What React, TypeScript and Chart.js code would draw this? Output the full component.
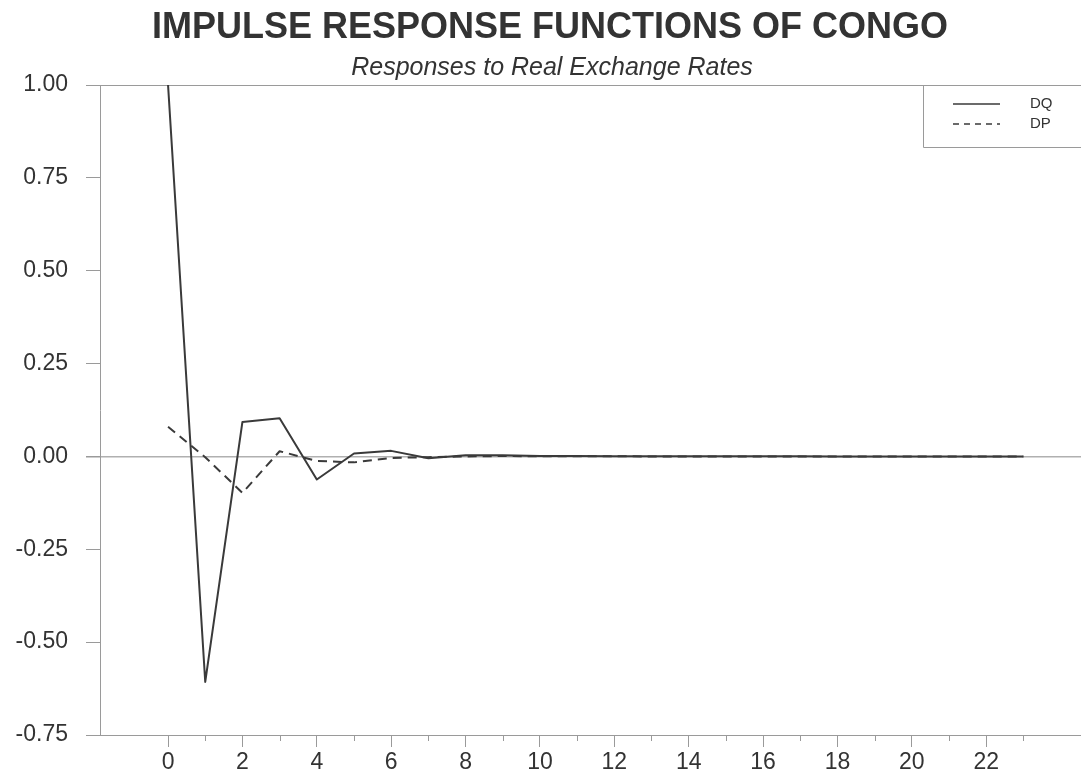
import React, { useEffect, useRef } from "react";
import { Chart, registerables } from "chart.js";

Chart.register(...registerables);

const periods = [0, 1, 2, 3, 4, 5, 6, 7, 8, 9, 10, 11, 12, 13, 14, 15, 16, 17, 18, 19, 20, 21, 22, 23];
const dq = [1.0, -0.607, 0.093, 0.103, -0.062, 0.008, 0.015, -0.005, 0.003, 0.003, 0.001, 0.001, 0.0005, 0.0005, 0.0003, 0.0003, 0.0002, 0.0002, 0.0001, 0.0001, 0.0001, 0.0001, 0.0, 0.0];
const dp = [0.08, -0.002, -0.098, 0.014, -0.012, -0.016, -0.004, -0.002, 0.0, 0.001, 0.0005, 0.0003, 0.0002, 0.0001, 0.0001, 0.0, 0.0, 0.0, 0.0, 0.0, 0.0, 0.0, 0.0, 0.0];
const majorXTicks = [0, 2, 4, 6, 8, 10, 12, 14, 16, 18, 20, 22];
const minorXTicks = [1, 3, 5, 7, 9, 11, 13, 15, 17, 19, 21, 23];
const seriesNames = ["DQ", "DP"];
const titleText = "IMPULSE RESPONSE FUNCTIONS OF CONGO";
const subtitleText = "Responses to Real Exchange Rates";

const AXIS = "#9a9a9a";
const TEXT = "#333333";
const LINE = "#3a3a3a";

const decor = {
  id: "decor",
  afterDraw(chart: any) {
    const ctx = chart.ctx;
    const area = chart.chartArea;
    const xs = chart.scales.x;
    ctx.save();
    // titles
    ctx.fillStyle = TEXT;
    ctx.textAlign = "center";
    ctx.textBaseline = "alphabetic";
    ctx.font = "bold 36px 'Liberation Sans', Arial, sans-serif";
    ctx.fillText(titleText, 550, 38);
    ctx.font = "italic 25px 'Liberation Sans', Arial, sans-serif";
    ctx.fillText(subtitleText, 552, 75);
    // minor x ticks
    ctx.strokeStyle = AXIS;
    ctx.lineWidth = 1;
    for (const v of minorXTicks) {
      const px = Math.round(xs.getPixelForValue(v)) + 0.5;
      ctx.beginPath();
      ctx.moveTo(px, area.bottom);
      ctx.lineTo(px, area.bottom + 6);
      ctx.stroke();
    }
    // legend box
    const bx = 923.5;
    const by = area.top;
    const bb = 147.5;
    ctx.beginPath();
    ctx.moveTo(bx, by);
    ctx.lineTo(bx, bb);
    ctx.lineTo(chart.width, bb);
    ctx.stroke();
    const rows = [104, 124];
    ctx.strokeStyle = LINE;
    ctx.lineWidth = 1.5;
    rows.forEach((y, i) => {
      ctx.setLineDash(i === 0 ? [] : [6, 5]);
      ctx.beginPath();
      ctx.moveTo(953, y);
      ctx.lineTo(1000, y);
      ctx.stroke();
    });
    ctx.setLineDash([]);
    ctx.fillStyle = TEXT;
    ctx.textAlign = "left";
    ctx.textBaseline = "middle";
    ctx.font = "15px 'Liberation Sans', Arial, sans-serif";
    rows.forEach((y, i) => ctx.fillText(seriesNames[i], 1030, y));
    ctx.restore();
  },
};

export default function App() {
  const ref = useRef<HTMLCanvasElement | null>(null);
  useEffect(() => {
    if (!ref.current) return;
    const chart = new Chart(ref.current, {
      type: "line",
      data: {
        datasets: [
          {
            label: seriesNames[0],
            data: periods.map((p, i) => ({ x: p, y: dq[i] })),
            borderColor: LINE,
            borderWidth: 2,
            borderJoinStyle: "round",
            pointRadius: 0,
            tension: 0,
          },
          {
            label: seriesNames[1],
            data: periods.map((p, i) => ({ x: p, y: dp[i] })),
            borderColor: LINE,
            borderWidth: 2,
            borderJoinStyle: "round",
            borderDash: [9, 6],
            pointRadius: 0,
            tension: 0,
          },
        ],
      },
      options: {
        responsive: false,
        animation: false,
        layout: { padding: { top: 85, left: 0, right: 0, bottom: 0 } },
        plugins: { legend: { display: false }, title: { display: false }, tooltip: { enabled: false } },
        scales: {
          x: {
            type: "linear",
            min: -1.83,
            max: 24.55,
            afterBuildTicks: (s: any) => {
              s.ticks = majorXTicks.map((v) => ({ value: v }));
            },
            afterFit: (s: any) => {
              s.height = 43;
            },
            grid: { drawOnChartArea: false, tickLength: 12, color: AXIS, tickColor: AXIS },
            border: { color: AXIS, width: 1 },
            ticks: {
              autoSkip: false,
              maxRotation: 0,
              padding: 2,
              color: TEXT,
              font: { family: "'Liberation Sans', Arial, sans-serif", size: 23 },
              callback: (v: any) => String(v),
            },
          },
          y: {
            type: "linear",
            min: -0.75,
            max: 1.0,
            afterFit: (s: any) => {
              s.width = 100;
            },
            ticks: {
              stepSize: 0.25,
              padding: 18,
              color: TEXT,
              font: { family: "'Liberation Sans', Arial, sans-serif", size: 23 },
              callback: (v: any) => Number(v).toFixed(2),
            },
            grid: {
              tickLength: 14,
              tickColor: AXIS,
              color: (c: any) => {
                const v = c.tick ? c.tick.value : null;
                if (v === 0) return "#b0b0b0";
                if (v === 1) return AXIS;
                return "rgba(0,0,0,0)";
              },
              lineWidth: (c: any) => (c.tick && c.tick.value === 0 ? 1.5 : 1),
            },
            border: { color: AXIS, width: 1 },
          },
        },
      },
      plugins: [decor],
    });
    return () => chart.destroy();
  }, []);
  return (
    <div style={{ position: "fixed", left: 0, top: 0, width: 1081, height: 778, background: "#fff" }}>
      <canvas ref={ref} width={1081} height={778} style={{ display: "block" }} />
    </div>
  );
}
